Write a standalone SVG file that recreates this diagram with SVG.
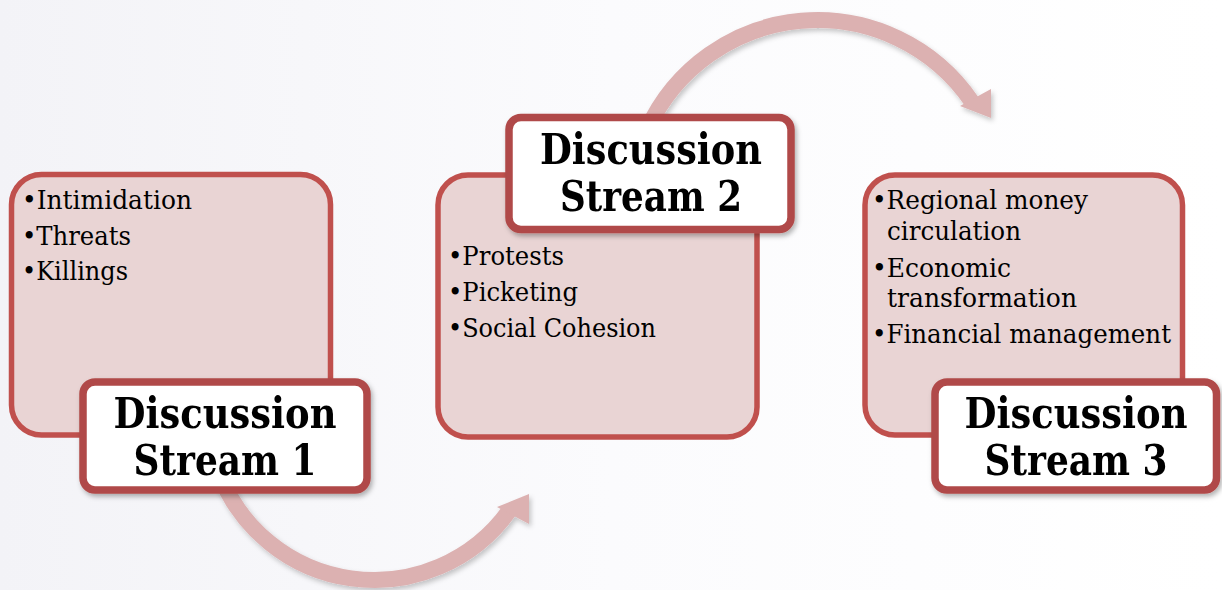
<svg xmlns="http://www.w3.org/2000/svg" width="1222" height="590" viewBox="0 0 1222 590">
<defs>
<linearGradient id="bg" x1="0" y1="0" x2="1" y2="0">
<stop offset="0" stop-color="#f3f3f7"/>
<stop offset="0.5" stop-color="#fbfbfd"/>
<stop offset="1" stop-color="#ffffff"/>
</linearGradient>
<filter id="sh" x="-10%" y="-10%" width="125%" height="130%">
<feDropShadow dx="2" dy="3" stdDeviation="2.5" flood-color="#000" flood-opacity="0.3"/>
</filter>
<filter id="ash" x="-10%" y="-20%" width="125%" height="140%">
<feDropShadow dx="2" dy="3" stdDeviation="2.5" flood-color="#000" flood-opacity="0.22"/>
</filter>
</defs>
<style>
.content{fill:#e9d4d4;stroke:#c0504d;stroke-width:5.5}
.label{fill:#ffffff;stroke:#b04a48;stroke-width:7.5}
.body{font-family:"DejaVu Serif","Liberation Serif",serif;font-size:26px;fill:#000}
.title{font-family:"DejaVu Serif","Liberation Serif",serif;font-size:42px;font-weight:bold;fill:#000;text-anchor:middle}
.shaft{fill:none;stroke:#dcb1b1;stroke-width:16}
.head{fill:#dcb1b1}
</style>
<rect x="0" y="0" width="1222" height="590" fill="url(#bg)"/>

<g id="connectors">
<g filter="url(#ash)">
<path class="shaft" d="M218 470 A166 166 0 0 0 509 511"/>
<polygon class="head" points="497,507 529,494 529,524"/>
</g>
<g filter="url(#ash)">
<path class="shaft" d="M647 130 A187 187 0 0 1 972 102"/>
<polygon class="head" points="960,106 991,89 991,118"/>
</g>
</g>

<g id="node1">
<rect class="content" x="11.5" y="174.5" width="319" height="260.5" rx="30"/>
<text class="body" x="22" y="209" textLength="170" lengthAdjust="spacingAndGlyphs">•Intimidation</text>
<text class="body" x="22" y="245" textLength="109" lengthAdjust="spacingAndGlyphs">•Threats</text>
<text class="body" x="22" y="280" textLength="106" lengthAdjust="spacingAndGlyphs">•Killings</text>
</g>
<g id="label1" filter="url(#sh)">
<rect class="label" x="83" y="382" width="284" height="108" rx="12"/>
<text class="title" x="225" y="428" textLength="223" lengthAdjust="spacingAndGlyphs">Discussion</text>
<text class="title" x="225" y="475" textLength="183" lengthAdjust="spacingAndGlyphs">Stream 1</text>
</g>

<g id="node2">
<rect class="content" x="438" y="175" width="319" height="262" rx="30"/>
<text class="body" x="448" y="265" textLength="116" lengthAdjust="spacingAndGlyphs">•Protests</text>
<text class="body" x="448" y="301" textLength="130" lengthAdjust="spacingAndGlyphs">•Picketing</text>
<text class="body" x="448" y="337" textLength="208" lengthAdjust="spacingAndGlyphs">•Social Cohesion</text>
</g>
<g id="label2" filter="url(#sh)">
<rect class="label" x="509" y="117.5" width="282" height="112" rx="12"/>
<text class="title" x="651" y="164" textLength="222" lengthAdjust="spacingAndGlyphs">Discussion</text>
<text class="title" x="651" y="211" textLength="182" lengthAdjust="spacingAndGlyphs">Stream 2</text>
</g>

<g id="node3">
<rect class="content" x="865" y="175" width="317.5" height="260" rx="30"/>
<text class="body" x="872" y="209" textLength="216" lengthAdjust="spacingAndGlyphs">•Regional money</text>
<text class="body" x="887" y="240" textLength="134" lengthAdjust="spacingAndGlyphs">circulation</text>
<text class="body" x="872" y="277" textLength="139" lengthAdjust="spacingAndGlyphs">•Economic</text>
<text class="body" x="887" y="307" textLength="190" lengthAdjust="spacingAndGlyphs">transformation</text>
<text class="body" x="872" y="343" textLength="299" lengthAdjust="spacingAndGlyphs">•Financial management</text>
</g>
<g id="label3" filter="url(#sh)">
<rect class="label" x="935" y="382" width="281.5" height="108" rx="12"/>
<text class="title" x="1076" y="428" textLength="223" lengthAdjust="spacingAndGlyphs">Discussion</text>
<text class="title" x="1076" y="475" textLength="183" lengthAdjust="spacingAndGlyphs">Stream 3</text>
</g>
</svg>
